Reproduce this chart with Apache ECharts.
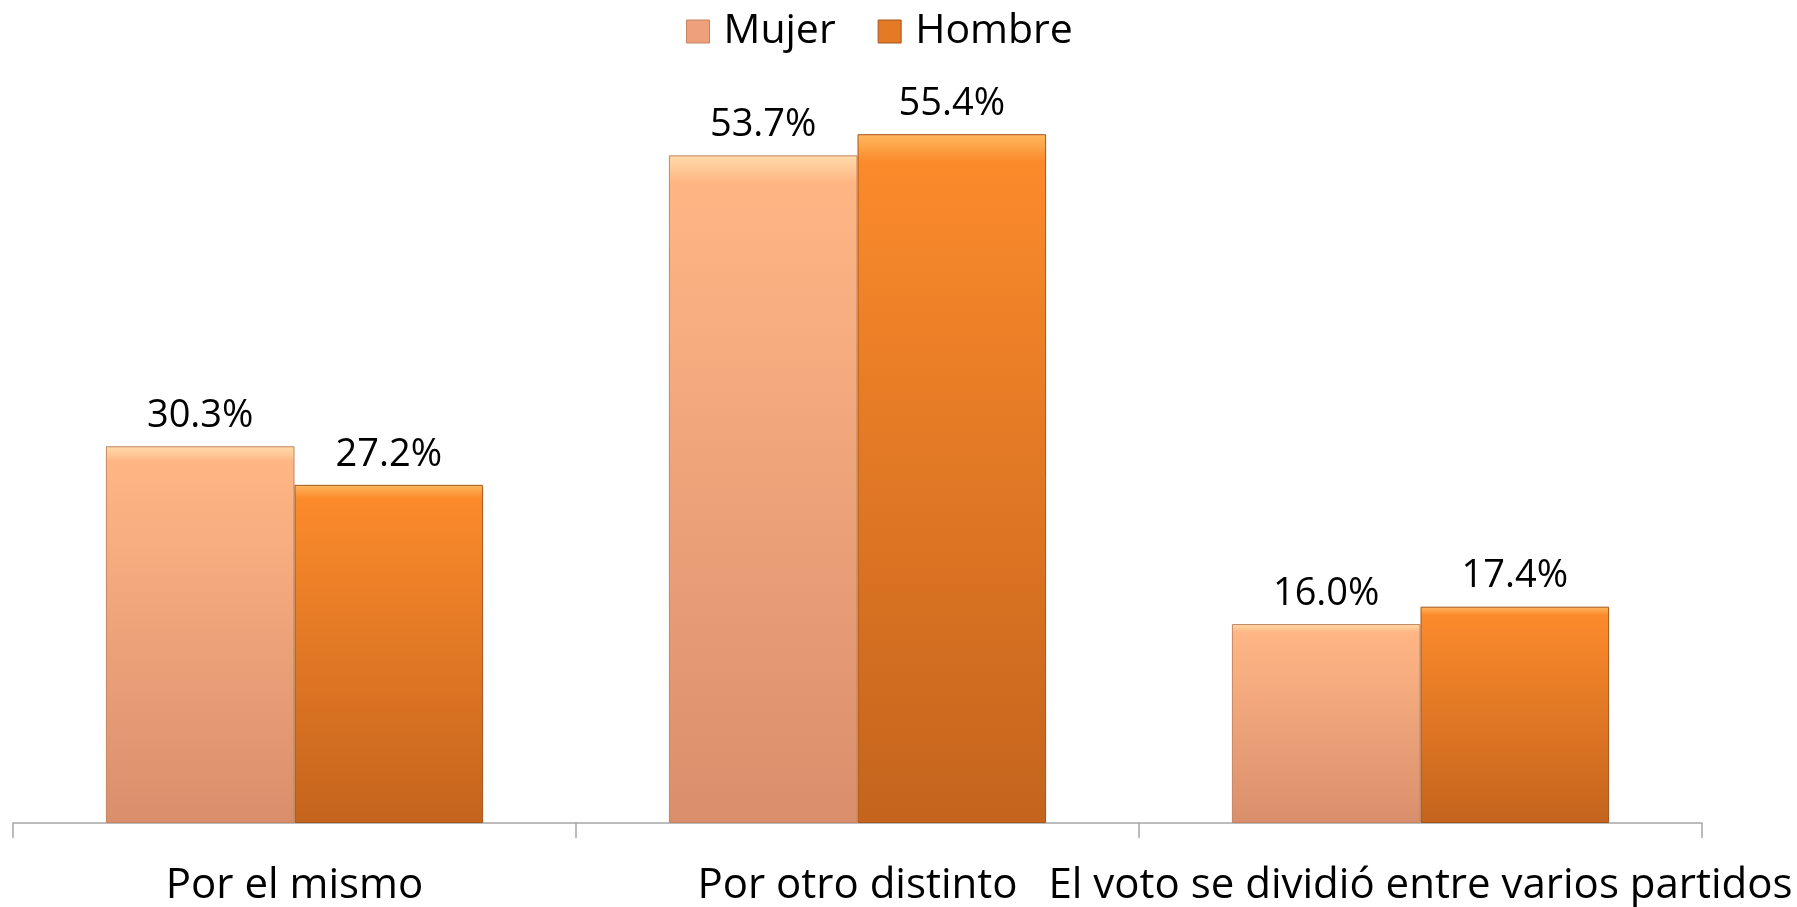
<!DOCTYPE html>
<html>
<head>
<meta charset="utf-8">
<script src="https://cdn.jsdelivr.net/npm/echarts@6/dist/echarts.min.js"></script>
<style>
  html, body { margin: 0; padding: 0; background: #fff; }
  #chart { width: 1797px; height: 907px; }
</style>
</head>
<body>
<div id="chart"></div>
<script>
const categories = ["Por el mismo", "Por otro distinto", "El voto se dividió entre varios partidos"];
const seriesNames = ["Mujer", "Hombre"];
const mujer = [30.3, 53.7, 16.0];
const hombre = [27.2, 55.4, 17.4];

const FONT = "Open Sans";

const grad = (top, mid, bottom) =>
  new echarts.graphic.LinearGradient(0, 0, 0, 1, [
    { offset: 0, color: top },
    { offset: 0.04, color: mid },
    { offset: 1, color: bottom },
  ]);

const styles = [
  { color: grad("#ffdcaa", "#ffb685", "#d98f6c"), border: "#c48462", legend: "#eea07a" },
  { color: grad("#ffb860", "#fb8a2b", "#c4641d"), border: "#a3561c", legend: "#e47a25" },
];

const chart = echarts.init(document.getElementById("chart"));

chart.setOption({
  animation: false,
  textStyle: { fontFamily: FONT },
  legend: {
    data: seriesNames.map((name, i) => ({
      name,
      itemStyle: { color: styles[i].legend, borderColor: styles[i].border, borderWidth: 1 },
    })),
    top: 6,
    left: 681,
    icon: "rect",
    itemWidth: 23,
    itemHeight: 23,
    itemGap: 42,
    textStyle: { fontFamily: FONT, fontSize: 41, color: "#000", padding: [0, 0, 0, 9] },
  },
  grid: { left: 13, right: 95, top: 77, bottom: 84 },
  xAxis: {
    type: "category",
    data: categories,
    axisLine: { lineStyle: { color: "#a6a6a6", width: 1.5 } },
    axisTick: { show: true, length: 15, inside: false, lineStyle: { color: "#a6a6a6", width: 1.5 } },
    axisLabel: { interval: 0, margin: 42, fontFamily: FONT, fontSize: 42, color: "#000" },
  },
  yAxis: { type: "value", min: 0, max: 60, show: false },
  series: [mujer, hombre].map((data, i) => ({
    name: seriesNames[i],
    type: "bar",
    data,
    barGap: "0%",
    barCategoryGap: "33%",
    itemStyle: { color: styles[i].color, borderColor: styles[i].border, borderWidth: 1 },
    label: {
      show: true,
      position: "top",
      distance: 11,
      fontFamily: FONT,
      fontSize: 38,
      color: "#000",
      formatter: ({ value }) => value.toFixed(1) + "%",
    },
  })),
});
</script>
</body>
</html>
